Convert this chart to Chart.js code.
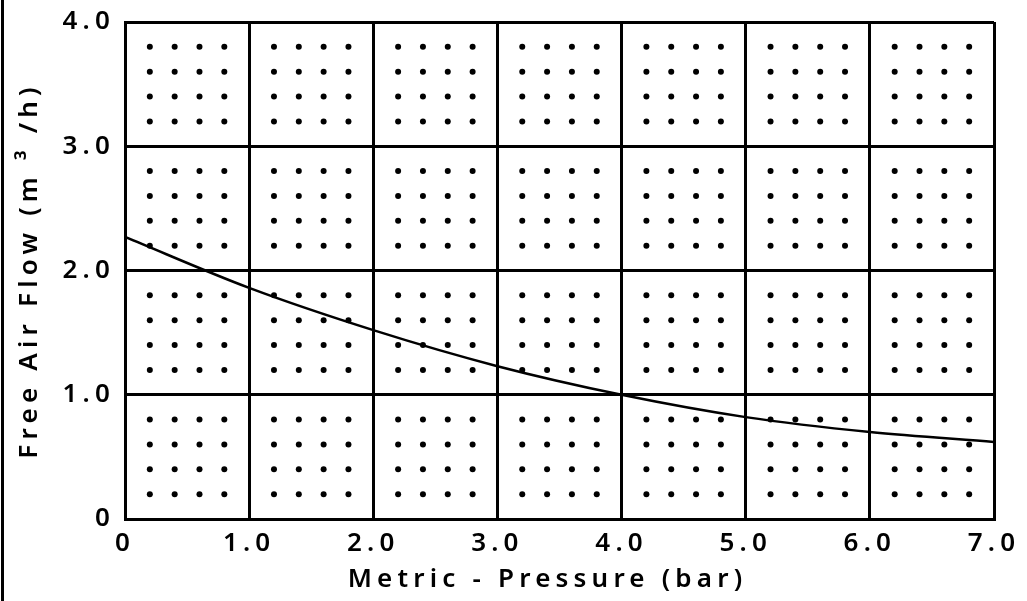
<!DOCTYPE html>
<html>
<head>
<meta charset="utf-8">
<script src="https://cdn.jsdelivr.net/npm/chart.js@4/dist/chart.umd.min.js"></script>
<style>
  html, body { margin: 0; padding: 0; background: #fff; }
  #wrap { width: 1027px; height: 601px; }
</style>
</head>
<body>
<div id="wrap"><canvas id="flowChart"></canvas></div>
<script>
// Pressure (bar) and free air flow (m3/h)
const pressure = [0, 1, 2, 3, 4, 5, 6, 7];
const airFlow = [2.27, 1.86, 1.52, 1.23, 1.0, 0.82, 0.70, 0.62];

// Axis ranges
const xTicks = [0, 1, 2, 3, 4, 5, 6, 7];
const yTicks = [0, 1, 2, 3, 4];

// Dot pattern inside each grid cell
const dotOffsets = [0.2, 0.4, 0.6, 0.8];

const FONT = '"Noto Sans", sans-serif';
const SPACING = '5.2px';

function tickText(v) {
    return v === 0 ? '0' : v.toFixed(1);
}

// build the dot grid from the offsets
const dots = [];
for (let i = 0; i < xTicks.length - 1; i++) {
    for (let j = 0; j < yTicks.length - 1; j++) {
        dotOffsets.forEach(dx => {
            dotOffsets.forEach(dy => {
                dots.push({ x: xTicks[i] + dx, y: yTicks[j] + dy });
            });
        });
    }
}

const spacingPlugin = {
    id: 'spacing',
    beforeLayout(chart) { chart.ctx.letterSpacing = SPACING; },
    beforeDraw(chart) {
        const ctx = chart.ctx;
        ctx.letterSpacing = SPACING;
        // black bar on the far left
        ctx.save();
        ctx.fillStyle = '#000';
        ctx.fillRect(1, 0, 3, chart.height);
        ctx.restore();
    }
};

new Chart(document.getElementById('flowChart'), {
    type: 'scatter',
    data: {
        datasets: [
            {
                label: 'curve',
                type: 'line',
                data: pressure.map((p, i) => ({ x: p, y: airFlow[i] })),
                borderColor: '#000',
                borderWidth: 2.5,
                pointRadius: 0,
                cubicInterpolationMode: 'monotone',
                fill: false
            },
            {
                label: 'dots',
                data: dots,
                backgroundColor: '#000',
                borderWidth: 0,
                pointRadius: 3
            }
        ]
    },
    options: {
        responsive: true,
        maintainAspectRatio: false,
        animation: false,
        layout: { padding: { top: 22, right: 33, left: 0, bottom: 0 } },
        plugins: {
            legend: { display: false },
            tooltip: { enabled: false }
        },
        scales: {
            x: {
                type: 'linear',
                min: 0,
                max: 7,
                afterBuildTicks: axis => { axis.ticks = xTicks.map(v => ({ value: v })); },
                afterFit: axis => {
                    axis.height = 82;
                    axis.paddingLeft = 0;
                    axis.paddingRight = 0;
                },
                grid: { color: '#000', lineWidth: 3, drawTicks: false },
                border: { color: '#000', width: 3 },
                ticks: {
                    color: '#000',
                    padding: 9,
                    maxRotation: 0,
                    font: { family: FONT, size: 26, weight: 600 },
                    callback: v => tickText(v)
                },
                title: {
                    display: true,
                    text: 'Metric - Pressure (bar)\u00a0\u00a0',
                    color: '#000',
                    font: { family: FONT, size: 26, weight: 600 },
                    padding: { top: 0, bottom: 6 }
                }
            },
            y: {
                min: 0,
                max: 4,
                afterBuildTicks: axis => { axis.ticks = yTicks.map(v => ({ value: v })); },
                afterFit: axis => {
                    axis.width = 125;
                    axis.paddingTop = 0;
                    axis.paddingBottom = 0;
                },
                grid: { color: '#000', lineWidth: 3, drawTicks: false },
                border: { color: '#000', width: 3 },
                ticks: {
                    color: '#000',
                    padding: 10,
                    font: { family: FONT, size: 26, weight: 600 },
                    callback: v => tickText(v)
                },
                title: {
                    display: true,
                    text: 'Free Air Flow (m ³ /h)',
                    color: '#000',
                    font: { family: FONT, size: 26, weight: 600 },
                    padding: { top: 14, bottom: 0 }
                }
            }
        }
    },
    plugins: [spacingPlugin]
});
</script>
</body>
</html>
